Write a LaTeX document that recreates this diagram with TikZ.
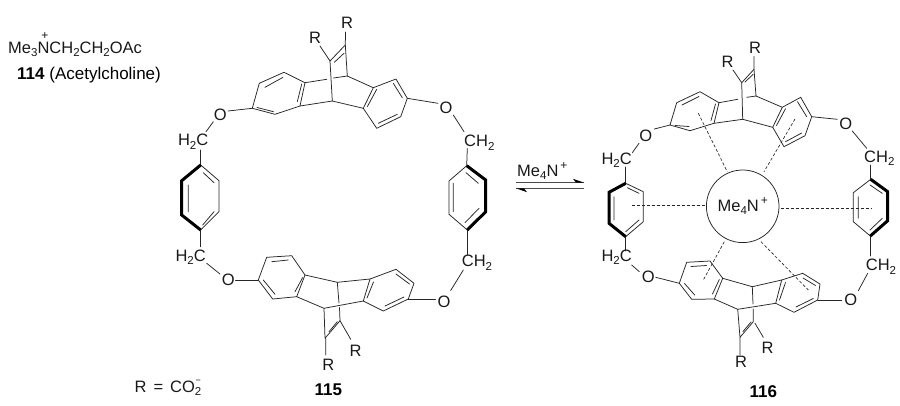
\documentclass[tikz,border=0pt]{standalone}
\usepackage{fontspec}
\setmainfont{Liberation Sans}
\newcommand{\lsub}[1]{\raisebox{-0.2em}{\fontsize{11.5}{11.5}\selectfont #1}}
\newcommand{\lsup}[1]{\raisebox{0.42em}{\fontsize{12}{12}\selectfont #1}}
\tikzset{
  bond/.style={draw=black!85,line width=0.75pt,line cap=round,line join=round},
  wedge/.style={draw=black,line width=3pt,line join=miter},
  dash bond/.style={draw=black!85,line width=0.65pt,dash pattern=on 3pt off 2pt},
  eq/.style={draw=black!70,line width=1pt},
  lab/.style={text=black!90,font=\fontsize{16.5}{16.5}\selectfont,inner sep=0pt},
  lbl/.style={text=black,font=\fontsize{17}{17}\selectfont,inner sep=0pt}
}
\begin{document}
\begin{tikzpicture}[x=1pt,y=-1pt]
\useasboundingbox[fill=white] (0,0) rectangle (900,405);
% --- text top left
\node[lab,anchor=west] (acn) at (8,49.5) {Me\lsub{3}NCH\lsub{2}CH\lsub{2}OAc};
\node[lab,font=\fontsize{12}{12}\selectfont] (acp) at (45,36) {+};
\node[lbl,anchor=west] (acl) at (17,75) {\textbf{114} (Acetylcholine)};
\node[lab,anchor=west] (rdef) at (134.5,388) {R\hspace{0.42em}=\hspace{0.42em}CO\lsub{2}\kern-5.6pt\raisebox{0.55em}{\fontsize{9}{9}\selectfont −}};
\node[lbl] (n115) at (328.3,390) {\textbf{115}};
\node[lbl] (n116) at (763.3,391.5) {\textbf{116}};

% ===== 115 =====
% top unit
\node[lab] (r1a) at (315,38) {R};
\node[lab] (r1b) at (347,23) {R};
\draw[bond] (320,46)--(330,61)--(345.3,45)--(345.5,32);
\draw[bond] (334.3,62.3)--(344,53.3);
\draw[bond] (330,61)--(332.3,101);
\draw[bond] (345.3,45)--(347.3,76);
\draw[bond] (252.3,108.3)--(259.3,83.3)--(284,72.3)--(305,82.7)--(300,106)--(275,114.3)--cycle;
\draw[bond] (265,87.3)--(283,77.3) (257,107.5)--(273.5,111.7) (301.7,84)--(297.3,101.7);
\draw[bond] (305,82.7)--(326.7,79.3) (333.5,78)--(347.3,76) (300,106)--(332.3,101);
\draw[bond] (347.3,76)--(373.3,87.7) (332.3,101)--(363.3,108.3);
\draw[bond] (373.3,87.7)--(363.3,108.3)--(376.7,128.3)--(400.7,116.7)--(407.3,98.3)--(396,79)--cycle;
\draw[bond] (367.3,106.7)--(376.7,89.3) (378.3,123.3)--(397.3,114.3) (393.3,83.3)--(402.3,97.7);
% top O links
\node[lab] (o1) at (220.3,115) {O};
\draw[bond] (252.3,108.3)--(228,111);
\draw[bond] (213.3,121.7)--(206,131.7);
\node[lab,anchor=east] (c1) at (208.5,141.7) {H\lsub{2}C};
\draw[bond] (200.7,150)--(200.7,165);
% left benzene
\draw[bond] (200.7,165)--(219,180.7)--(219,211.7)--(200.7,230);
\draw[wedge] (200.7,165)--(181.7,180.7)--(181.7,215)--(200.7,230);
\draw[bond] (188.3,185)--(188.3,211.7) (203.3,172.7)--(214,182.7) (202.7,225)--(214,211.7);
\draw[bond] (200.7,230)--(200.7,246.7);
\node[lab,anchor=east] (c2) at (206,257.3) {H\lsub{2}C};
\draw[bond] (206.7,263.3)--(220,274);
\node[lab] (o2) at (228.3,280) {O};
\draw[bond] (235.5,280)--(258.3,280);
% bottom unit
\draw[bond] (258.3,280)--(266.7,257.3)--(291.7,255.7)--(305,275)--(296.7,296.7)--(272.7,299)--cycle;
\draw[bond] (271.7,261.7)--(288.3,260) (263.3,280)--(275,294.3) (295,291.7)--(302.7,277.5);
\draw[bond] (305,275)--(337.3,282.3)--(370,279) (296.7,296.7)--(324,308.3)--(363.3,301);
\draw[bond] (370,279)--(363.3,301)--(383.3,311)--(408.3,299)--(414,283.3)--(396,269.3)--cycle;
\draw[bond] (367,298)--(373.5,282) (385,306)--(404,297) (396,274)--(409.5,284);
\draw[bond] (337.3,282.3)--(339,303) (339.5,307.5)--(340,320.7)--(325,338.3)--(324,308.3);
\draw[bond] (329,331.7)--(337.3,321.7);
\node[lab] (r2a) at (328.3,365) {R};
\node[lab] (r2b) at (355.7,350.7) {R};
\draw[bond] (325.7,338)--(325.7,355) (340,320.7)--(350.7,339.3);
\node[lab] (o3) at (444,301.7) {O};
\draw[bond] (408.3,299)--(435.5,299);
\draw[bond] (450.7,290.5)--(463.3,270);
\node[lab,anchor=west] (c3) at (461.7,262.7) {CH\lsub{2}};
\draw[bond] (467.3,255)--(467.3,230);
\draw[bond] (467.3,230)--(449,214.3)--(449,181)--(466.7,165.7);
\draw[wedge] (467.3,230)--(485.7,211.7)--(485.7,180)--(466.7,165.7);
\draw[bond] (453.3,183.3)--(453.3,211.7) (466,172.7)--(478.3,183.3) (465,222.7)--(479,208.3);
\draw[bond] (467.3,148.5)--(466.7,165.7);
\node[lab,anchor=west] (c4) at (464,142.7) {CH\lsub{2}};
\node[lab] (o4) at (446,108.3) {O};
\draw[bond] (407.3,98.3)--(438,103.3);
\draw[bond] (453.3,115)--(464,131.7);

% ===== equilibrium =====
\node[lab,anchor=west] (eqt) at (517,171) {Me\lsub{4}N\hspace{0.12em}\lsup{+}};
\coordinate (ea) at (516,182.7); \coordinate (eb) at (584.3,182.7);
\coordinate (ec) at (584.3,188.3); \coordinate (ed) at (516,188.3);
\draw[eq] (ea)--(eb) (ec)--(ed);
\fill[black] (584.3,182.7)--(573,178.8)--(576,182.7)--cycle;
\fill[black] (516,188.3)--(527,192.2)--(524,188.3)--cycle;

% ===== 116 =====
\node[draw=black!85,line width=0.75pt,circle,minimum size=72.6pt,inner sep=0pt,font=\fontsize{16.5}{16.5}\selectfont,text=black!90] (cat) at (742.7,206.3) {Me\lsub{4}N\hspace{0.12em}\lsup{+}};
\node[lab] (r3a) at (727.7,62.3) {R};
\node[lab] (r3b) at (755,48.3) {R};
\draw[bond] (733,70)--(741.7,82.7)--(754,69.3)--(754,56.5);
\draw[bond] (745,82)--(753,74.5);
\draw[bond] (741.7,82.7)--(742.7,119.3) (754,69.3)--(756,96);
\draw[bond] (670,125)--(676.7,102.7)--(700,91.7)--(719,102.7)--(714,123.3)--(690,130.7)--cycle;
\draw[bond] (682,105)--(699,96.5) (675,125.5)--(689,126.5) (715.5,104)--(711,120.5);
\draw[bond] (719,102.7)--(737.7,99.3) (746.7,97.3)--(756,96) (714,123.3)--(742.7,119.3);
\draw[bond] (756,96)--(782.3,107.3) (742.7,119.3)--(772.7,127.3);
\draw[bond] (782.3,107.3)--(772.7,127.3)--(784,146.7)--(805,135.7)--(811.7,116.7)--(800.7,97.3)--cycle;
\draw[bond] (776.5,125.5)--(785.5,108.7) (785.5,141.7)--(801.7,133) (797.5,101.7)--(806.7,116.7);
\node[lab] (o5) at (645.7,136) {O};
\draw[bond] (670,125)--(654.3,129);
\draw[bond] (639,143.3)--(632.3,152.7);
\node[lab,anchor=east] (c5) at (632,160) {H\lsub{2}C};
\draw[bond] (625.7,167)--(625.7,183.3);
\draw[bond] (625.7,183.3)--(643.3,191.7)--(643.3,221.7)--(625.7,236.7);
\draw[wedge] (625.7,183.3)--(609,192.3)--(609,223.3)--(625.7,236.7);
\draw[bond] (614,196.7)--(614,220) (627.3,187.7)--(639,193.3) (625.7,231.7)--(639,220);
\draw[bond] (625.7,236.7)--(625.7,251);
\node[lab,anchor=east] (c6) at (632,257.3) {H\lsub{2}C};
\draw[bond] (631.7,265)--(639.3,271.7);
\node[lab] (o6) at (648.3,277.3) {O};
\draw[bond] (655.7,277.3)--(679.3,283.3);
\draw[bond] (679.3,283.3)--(686.7,262.3)--(710,261)--(722.7,278.3)--(714.3,299)--(691.7,299.3)--cycle;
\draw[bond] (691,266.5)--(706.5,265.5) (684.5,283.5)--(694.7,295) (712.5,294)--(719.3,279.5);
\draw[bond] (722.7,278.3)--(752.3,286.7)--(781.7,280) (714.3,299)--(737.7,309.3)--(775.7,303.3);
\draw[bond] (781.7,280)--(775.7,303.3)--(794,312.3)--(817.7,300)--(820,284)--(802.7,273.3)--cycle;
\draw[bond] (779.5,300)--(785.5,282.5) (796,307)--(813.3,298.5) (803,278)--(815.5,285.5);
\draw[bond] (752.3,286.7)--(753,304) (753.2,309)--(753.3,321.7)--(740,337.3)--(737.7,309.3);
\draw[bond] (743,331.5)--(751,322);
\node[lab] (r4a) at (741,361.7) {R};
\node[lab] (r4b) at (767.7,348.3) {R};
\draw[bond] (740,337.3)--(740,355) (755,323.3)--(763.3,337.3);
\node[lab] (o7) at (850.7,300) {O};
\draw[bond] (817.7,300)--(841.7,300);
\draw[bond] (858.3,290.7)--(867.7,273.3);
\node[lab,anchor=west] (c7) at (865.7,266.7) {CH\lsub{2}};
\draw[bond] (870.3,256)--(870.3,236);
\draw[bond] (870.3,236)--(853.3,221.7)--(853.3,192.7)--(870.7,179.3);
\draw[wedge] (870.3,236)--(887.7,220.7)--(887.7,191.7)--(870.7,179.3);
\draw[bond] (858.3,196.7)--(858.3,218.3) (870,185)--(882.3,193.3) (870,230)--(882.3,218.3);
\draw[bond] (870.7,165)--(870.7,179.3);
\node[lab,anchor=west] (c8) at (864,158.3) {CH\lsub{2}};
\node[lab] (o8) at (845.7,124.3) {O};
\draw[bond] (811.7,116.7)--(837.3,119.3);
\draw[bond] (852.3,131)--(866.7,148.3);
% dashed contacts
\coordinate (d1) at (631.7,205.7); \coordinate (d2) at (871.7,208.3);
\coordinate (d3) at (698.3,113.3); \coordinate (d4) at (795,119);
\coordinate (d5) at (703.3,280); \coordinate (d6) at (808.3,290);
\draw[dash bond] (d1)--(705.5,205.7);
\draw[dash bond] (780.5,208.3)--(d2);
\draw[dash bond] (d3)--(727.3,171.7);
\draw[dash bond] (d4)--(764,171.7);
\draw[dash bond] (724.3,241.7)--(d5);
\draw[dash bond] (761,241.7)--(d6);
\end{tikzpicture}
\end{document}
